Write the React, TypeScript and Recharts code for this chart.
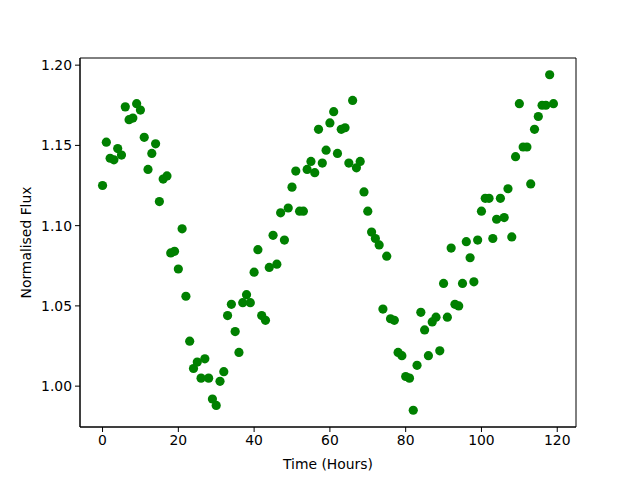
import { ScatterChart, Scatter, XAxis, YAxis, ReferenceArea, Label } from "recharts";

// hours since start
const hours: number[] = Array.from({ length: 120 }, (_, i) => i);

// normalised flux, one reading per hour
const flux: number[] = [
  1.125, 1.152, 1.142, 1.141, 1.148, 1.144, 1.174, 1.166, 1.167, 1.176,
  1.172, 1.155, 1.135, 1.145, 1.151, 1.115, 1.129, 1.131, 1.083, 1.084,
  1.073, 1.098, 1.056, 1.028, 1.011, 1.015, 1.005, 1.017, 1.005, 0.992,
  0.988, 1.003, 1.009, 1.044, 1.051, 1.034, 1.021, 1.052, 1.057, 1.052,
  1.071, 1.085, 1.044, 1.041, 1.074, 1.094, 1.076, 1.108, 1.091, 1.111,
  1.124, 1.134, 1.109, 1.109, 1.135, 1.14, 1.133, 1.16, 1.139, 1.147,
  1.164, 1.171, 1.145, 1.16, 1.161, 1.139, 1.178, 1.136, 1.14, 1.121,
  1.109, 1.096, 1.092, 1.088, 1.048, 1.081, 1.042, 1.041, 1.021, 1.019,
  1.006, 1.005, 0.985, 1.013, 1.046, 1.035, 1.019, 1.04, 1.043, 1.022,
  1.064, 1.043, 1.086, 1.051, 1.05, 1.064, 1.09, 1.08, 1.065, 1.091,
  1.109, 1.117, 1.117, 1.092, 1.104, 1.117, 1.105, 1.123, 1.093, 1.143,
  1.176, 1.149, 1.149, 1.126, 1.16, 1.168, 1.175, 1.175, 1.194, 1.176,
];

const xTicks = [0, 20, 40, 60, 80, 100, 120];
const yTicks = [1.0, 1.05, 1.1, 1.15, 1.2];

const points = hours.map((h, i) => ({ x: h, y: flux[i] }));

const font = "DejaVu Sans";
const tickStyle = { fontSize: 13.9, fill: "#000", fontFamily: font };

const Dot = (props: any) => {
  const { cx, cy } = props;
  return <circle cx={cx} cy={cy} r={4.6} fill="#008000" />;
};

const App = () => {
  return (
    <div style={{ position: "absolute", left: 0, top: 0, background: "#fff" }}>
      <ScatterChart
        width={640}
        height={480}
        margin={{ top: 58, right: 64, left: 20, bottom: 23 }}
      >
        <XAxis
          type="number"
          dataKey="x"
          domain={[-5.95, 124.95]}
          ticks={xTicks}
          allowDataOverflow
          height={30}
          tickSize={5}
          tickMargin={3}
          stroke="#000"
          tick={tickStyle}
        >
          <Label
            value="Time (Hours)"
            position="insideBottom"
            offset={-12}
            style={{ fontSize: 13.9, fill: "#000", fontFamily: font }}
          />
        </XAxis>
        <YAxis
          type="number"
          dataKey="y"
          domain={[0.97455, 1.20445]}
          ticks={yTicks}
          allowDataOverflow
          width={60}
          tickSize={5}
          tickMargin={3}
          stroke="#000"
          tick={tickStyle}
          tickFormatter={(v: number) => v.toFixed(2)}
        >
          <Label
            value="Normalised Flux"
            angle={-90}
            position="insideLeft"
            offset={0}
            dx={6}
            style={{ fontSize: 13.9, fill: "#000", fontFamily: font, textAnchor: "middle" }}
          />
        </YAxis>
        <ReferenceArea
          x1={-5.95}
          x2={124.95}
          y1={0.97455}
          y2={1.20445}
          fill="none"
          stroke="#000"
          strokeWidth={1}
          ifOverflow="extendDomain"
        />
        <Scatter data={points} shape={Dot} isAnimationActive={false} />
      </ScatterChart>
    </div>
  );
};

export default App;
